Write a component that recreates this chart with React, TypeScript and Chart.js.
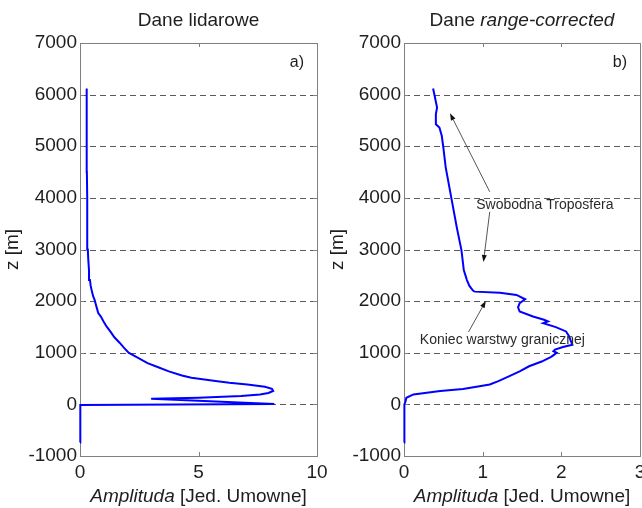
import React, { useEffect, useRef } from "react";
import { Chart, registerables } from "chart.js";

Chart.register(...registerables);

const FONT = '"Liberation Sans", Arial, Helvetica, sans-serif';
const TEXT = "#1e1e1e";

// ---- data ----
const zMin = -1000;
const zMax = 7000;
const zStep = 1000;

const lidarAltitude = [
  -740, -400, -100, -10, 5, 110, 130, 160, 190, 220, 260, 300, 340, 385, 420, 450, 515, 560,
  640, 720, 800, 900, 1000, 1100, 1190, 1300, 1400, 1510, 1600, 1700, 1770, 1850, 1950, 2020,
  2100, 2215, 2300, 2410, 2600, 2800, 3000, 3500, 4000, 4500, 5000, 5500, 6000, 6120,
];
const lidarAmplitude = [
  0, 0, 0.01, 0.03, 8.2, 3.0, 5.0, 6.8, 7.6, 7.95, 8.15, 8.1, 7.8, 7.06, 6.3, 5.8, 4.7, 4.3,
  3.75, 3.3, 2.85, 2.45, 2.05, 1.85, 1.68, 1.45, 1.3, 1.12, 1.0, 0.88, 0.77, 0.72, 0.66, 0.62,
  0.55, 0.49, 0.45, 0.42, 0.38, 0.35, 0.33, 0.31, 0.3, 0.29, 0.29, 0.28, 0.28, 0.28,
];

const rcAltitude = [
  -740, -400, 0, 60, 128, 193, 257, 300, 353, 385, 450, 546, 640, 738, 830, 919, 963, 1000,
  1030, 1060, 1111, 1156, 1230, 1317, 1413, 1497, 1574, 1606, 1638, 1702, 1798, 1880, 1960,
  2036, 2120, 2164, 2184, 2200, 2248, 2300, 2408, 2601, 2800, 2987, 3435, 4014, 4592, 4977,
  5202, 5362, 5427, 5620, 5748, 5973, 6120,
];
const rcAmplitude = [
  0, 0, 0.01, 0.02, 0.03, 0.12, 0.46, 0.75, 0.96, 1.09, 1.2, 1.34, 1.47, 1.59, 1.75, 1.87, 1.91,
  1.94, 1.9, 1.92, 2.02, 2.14, 2.12, 2.1, 2.06, 1.93, 1.77, 1.83, 1.78, 1.64, 1.47, 1.45, 1.47,
  1.54, 1.43, 1.22, 0.9, 0.88, 0.855, 0.83, 0.8, 0.76, 0.745, 0.73, 0.67, 0.6, 0.53, 0.5, 0.48,
  0.45, 0.405, 0.405, 0.42, 0.39, 0.37,
];

const lidarXMax = 10;
const lidarXStep = 5;
const rcXMax = 3;
const rcXStep = 1;

const leftTitle = [{ text: "Dane lidarowe", italic: false }];
const rightTitle = [
  { text: "Dane ", italic: false },
  { text: "range-corrected", italic: true },
];
const xAxisLabel = [
  { text: "Amplituda", italic: true },
  { text: " [Jed. Umowne]", italic: false },
];
const yAxisLabel = "z [m]";
const leftTag = "a)";
const rightTag = "b)";

// annotations on panel b (data coordinates)
const rcNoteTexts = ["Swobodna Troposfera", "Koniec warstwy granicznej"];
const rcNoteAmp = [1.79, 1.25];
const rcNoteZ = [3860, 1240];
const rcArrowFromAmp = [1.09, 1.09, 0.82];
const rcArrowFromZ = [4118, 3730, 1402];
const rcArrowToAmp = [0.585, 1.01, 1.04];
const rcArrowToZ = [5638, 2760, 2004];

type Part = { text: string; italic: boolean };

function drawRich(ctx: CanvasRenderingContext2D, parts: Part[], cx: number, cy: number, size: number) {
  ctx.textBaseline = "middle";
  ctx.textAlign = "left";
  ctx.fillStyle = TEXT;
  const fonts = parts.map((p) => `${p.italic ? "italic " : ""}${size}px ${FONT}`);
  const widths = parts.map((p, i) => {
    ctx.font = fonts[i];
    return ctx.measureText(p.text).width;
  });
  const total = widths.reduce((a, b) => a + b, 0);
  let x = cx - total / 2;
  parts.forEach((p, i) => {
    ctx.font = fonts[i];
    ctx.fillText(p.text, x, cy);
    x += widths[i];
  });
}

function makeFramePlugin(opts: {
  title: Part[];
  tag: string;
  yLabelX: number;
  notes?: boolean;
}) {
  return {
    id: "frame",
    beforeDatasetsDraw(chart: any) {
      const { ctx, chartArea: a, scales } = chart;
      const xs = scales.x;
      const ys = scales.y;
      ctx.save();
      // dashed horizontal grid
      ctx.strokeStyle = "#5a5a5a";
      ctx.lineWidth = 1;
      ctx.setLineDash([6, 4]);
      ctx.beginPath();
      ys.ticks.forEach((t: any) => {
        if (t.value === zMin || t.value === zMax) return;
        const py = Math.round(ys.getPixelForValue(t.value)) + 0.5;
        ctx.moveTo(a.left, py);
        ctx.lineTo(a.right, py);
      });
      ctx.stroke();
      ctx.setLineDash([]);
      // inward ticks + box
      ctx.strokeStyle = "#808080";
      ctx.beginPath();
      xs.ticks.forEach((t: any) => {
        const px = Math.round(xs.getPixelForValue(t.value)) + 0.5;
        ctx.moveTo(px, a.top);
        ctx.lineTo(px, a.top + 4);
        ctx.moveTo(px, a.bottom);
        ctx.lineTo(px, a.bottom - 4);
      });
      ys.ticks.forEach((t: any) => {
        const py = Math.round(ys.getPixelForValue(t.value)) + 0.5;
        ctx.moveTo(a.left, py);
        ctx.lineTo(a.left + 4, py);
        ctx.moveTo(a.right, py);
        ctx.lineTo(a.right - 4, py);
      });
      ctx.stroke();
      ctx.strokeRect(Math.round(a.left) + 0.5, Math.round(a.top) + 0.5, Math.round(a.width), Math.round(a.height));
      ctx.restore();
    },
    afterDraw(chart: any) {
      const { ctx, chartArea: a, scales } = chart;
      const xs = scales.x;
      const ys = scales.y;
      ctx.save();
      const cx = (a.left + a.right) / 2;
      drawRich(ctx, opts.title, cx, 21, 19);
      drawRich(ctx, xAxisLabel, cx, 497, 19);
      // y label
      ctx.save();
      ctx.translate(opts.yLabelX, (a.top + a.bottom) / 2);
      ctx.rotate(-Math.PI / 2);
      ctx.font = `19px ${FONT}`;
      ctx.textAlign = "center";
      ctx.textBaseline = "middle";
      ctx.fillStyle = TEXT;
      ctx.fillText(yAxisLabel, 0, 0);
      ctx.restore();
      // tag
      ctx.font = `16px ${FONT}`;
      ctx.textAlign = "right";
      ctx.textBaseline = "middle";
      ctx.fillStyle = TEXT;
      ctx.fillText(opts.tag, a.right - 13, a.top + 20);

      if (opts.notes) {
        ctx.font = `14px ${FONT}`;
        ctx.textAlign = "center";
        ctx.fillStyle = "#2a2a2a";
        rcNoteTexts.forEach((t, i) => {
          ctx.fillText(t, xs.getPixelForValue(rcNoteAmp[i]), ys.getPixelForValue(rcNoteZ[i]));
        });
        rcArrowFromAmp.forEach((_, i) => {
          const x0 = xs.getPixelForValue(rcArrowFromAmp[i]);
          const y0 = ys.getPixelForValue(rcArrowFromZ[i]);
          const x1 = xs.getPixelForValue(rcArrowToAmp[i]);
          const y1 = ys.getPixelForValue(rcArrowToZ[i]);
          const ang = Math.atan2(y1 - y0, x1 - x0);
          const len = 7;
          const hw = 2.5;
          const bx = x1 - len * Math.cos(ang);
          const by = y1 - len * Math.sin(ang);
          ctx.strokeStyle = "#555";
          ctx.lineWidth = 1;
          ctx.beginPath();
          ctx.moveTo(x0, y0);
          ctx.lineTo(bx, by);
          ctx.stroke();
          ctx.fillStyle = "#111";
          ctx.beginPath();
          ctx.moveTo(x1, y1);
          ctx.lineTo(bx + hw * Math.sin(ang), by - hw * Math.cos(ang));
          ctx.lineTo(bx - hw * Math.sin(ang), by + hw * Math.cos(ang));
          ctx.closePath();
          ctx.fill();
        });
      }
      ctx.restore();
    },
  };
}

function makeConfig(opts: {
  altitude: number[];
  amplitude: number[];
  xMax: number;
  xStep: number;
  yWidth: number;
  padRight: number;
  plugin: any;
}): any {
  const points = opts.altitude.map((z, i) => ({ x: opts.amplitude[i], y: z }));
  return {
    type: "scatter",
    data: {
      datasets: [
        {
          data: points,
          showLine: true,
          borderColor: "#0000ff",
          backgroundColor: "#0000ff",
          borderWidth: 2,
          pointRadius: 0,
          tension: 0,
          clip: 6,
        },
      ],
    },
    options: {
      animation: false,
      responsive: false,
      devicePixelRatio: 1,
      layout: { padding: { top: 43, right: opts.padRight, bottom: 0, left: 0 } },
      plugins: { legend: { display: false }, tooltip: { enabled: false }, title: { display: false } },
      scales: {
        x: {
          type: "linear",
          min: 0,
          max: opts.xMax,
          ticks: {
            stepSize: opts.xStep,
            color: TEXT,
            font: { family: FONT, size: 19 },
            padding: -3,
            maxRotation: 0,
            autoSkip: false,
            callback: (v: any) => String(v),
          },
          grid: { display: false },
          border: { display: false },
          afterFit: (s: any) => {
            s.height = 52;
          },
        },
        y: {
          type: "linear",
          min: zMin,
          max: zMax,
          ticks: {
            stepSize: zStep,
            color: TEXT,
            font: { family: FONT, size: 19 },
            padding: 3,
            autoSkip: false,
            callback: (v: any) => String(v),
          },
          grid: { display: false, drawTicks: false },
          border: { display: false },
          afterFit: (s: any) => {
            s.width = opts.yWidth;
          },
        },
      },
    },
    plugins: [opts.plugin],
  };
}

export default function App() {
  const leftRef = useRef<HTMLCanvasElement>(null);
  const rightRef = useRef<HTMLCanvasElement>(null);

  useEffect(() => {
    const leftCfg = makeConfig({
      altitude: lidarAltitude,
      amplitude: lidarAmplitude,
      xMax: lidarXMax,
      xStep: lidarXStep,
      yWidth: 80,
      padRight: 13,
      plugin: makeFramePlugin({ title: leftTitle, tag: leftTag, yLabelX: 13 }),
    });
    const rightCfg = makeConfig({
      altitude: rcAltitude,
      amplitude: rcAmplitude,
      xMax: rcXMax,
      xStep: rcXStep,
      yWidth: 82,
      padRight: 22,
      plugin: makeFramePlugin({ title: rightTitle, tag: rightTag, yLabelX: 16, notes: true }),
    });
    const c1 = new Chart(leftRef.current as HTMLCanvasElement, leftCfg);
    const c2 = new Chart(rightRef.current as HTMLCanvasElement, rightCfg);
    return () => {
      c1.destroy();
      c2.destroy();
    };
  }, []);

  return (
    <div
      style={{
        position: "absolute",
        left: 0,
        top: 0,
        width: 642,
        height: 508,
        overflow: "hidden",
        background: "#ffffff",
      }}
    >
      <canvas ref={leftRef} width={330} height={508} style={{ position: "absolute", left: 0, top: 0 }} />
      <canvas ref={rightRef} width={340} height={508} style={{ position: "absolute", left: 322, top: 0 }} />
    </div>
  );
}
